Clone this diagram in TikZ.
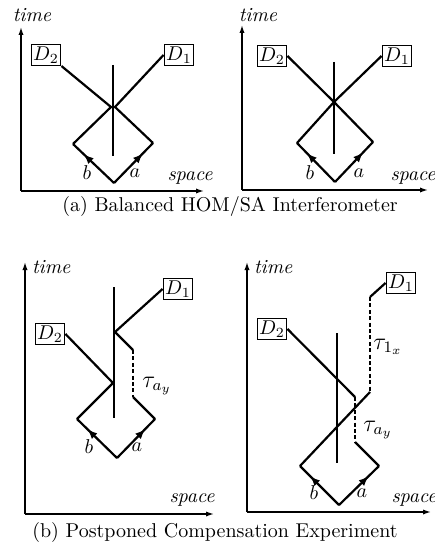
\documentclass[tikz,border=0pt]{standalone}
\usetikzlibrary{arrows.meta,decorations.markings}
\begin{document}
\begin{tikzpicture}[x=0.5pt,y=-0.5pt,
  axis/.style={line width=0.7pt,-{Latex[length=4pt,width=2.6pt]}},
  ray/.style={line width=1.1pt},
  delay/.style={line width=1.1pt,dash pattern=on 2pt off 1.2pt},
  bsplit/.style={line width=1.1pt},
  det/.style={draw,line width=0.7pt,inner sep=1pt,minimum height=9pt},
  lbl/.style={font=\itshape},
  upray/.style={line width=1.1pt,postaction={decorate},decoration={markings,mark=at position 0.74 with {\arrow{Latex[length=5pt,width=4pt]}}}},
  captext/.style={font=\normalsize}
]
\useasboundingbox (0,0) rectangle (434,545);

% ---------- Panel (a) left ----------
\coordinate (O1) at (21,191);
\coordinate (Y1) at (21,27);
\coordinate (X1) at (204,191);
\draw[axis] (O1) -- (Y1);
\draw[axis] (O1) -- (X1);
\node[lbl] (t1) at (32,15) {time};
\node[lbl] (sp1) at (190,178) {space};
\node[det] (D2a) at (46,55) {$D_2$};
\node[det] (D1a) at (179,55) {$D_1$};
\coordinate (bs1t) at (113,65);
\coordinate (bs1b) at (113,156);
\draw[bsplit] (bs1t) -- (bs1b);
\coordinate (r1L) at (111,107);
\coordinate (r1R) at (115,107);
\coordinate (L1) at (73,144);
\coordinate (R1) at (153,143);
\coordinate (B1) at (114,183);
\draw[ray] (D2a.south east) -- (r1L) -- (L1);
\draw[ray] (D1a.west) -- (r1R) -- (R1);
\draw[upray] (B1) -- (L1);
\draw[upray] (B1) -- (R1);
\node (b1) at (87,173) {$b$};
\node (a1) at (135,173) {$a$};

% ---------- Panel (a) right ----------
\coordinate (O2) at (242,190);
\coordinate (Y2) at (242,25);
\coordinate (X2) at (428,190);
\draw[axis] (O2) -- (Y2);
\draw[axis] (O2) -- (X2);
\node[lbl] (t2) at (258,15) {time};
\node[lbl] (sp2) at (413,178) {space};
\node[det] (D2b) at (272,56) {$D_2$};
\node[det] (D1b) at (397,56) {$D_1$};
\coordinate (bs2t) at (334,62);
\coordinate (bs2b) at (334,154);
\draw[bsplit] (bs2t) -- (bs2b);
\coordinate (c2) at (334,102);
\coordinate (L2) at (297,143);
\coordinate (R2) at (373,142);
\coordinate (B2) at (335,182);
\draw[ray] (D2b.east) -- (c2) -- (R2);
\draw[ray] (D1b.west) -- (c2) -- (L2);
\draw[upray] (B2) -- (L2);
\draw[upray] (B2) -- (R2);
\node (b2) at (310,173) {$b$};
\node (a2) at (359,173) {$a$};

\node[captext] (capa) at (230,207) {(a) Balanced HOM/SA Interferometer};

% ---------- Panel (b) left ----------
\coordinate (O3) at (25,514);
\coordinate (Y3) at (25,262);
\coordinate (X3) at (214,514);
\draw[axis] (O3) -- (Y3);
\draw[axis] (O3) -- (X3);
\node[lbl,anchor=west] (t3) at (25,267) {time};
\node[lbl] (sp3) at (192,500) {space};
\node[det] (D1c) at (178,289) {$D_1$};
\node[det] (D2c) at (50,334) {$D_2$};
\coordinate (bs3t) at (114,287);
\coordinate (bs3b) at (114,418);
\draw[bsplit] (bs3t) -- (bs3b);
\coordinate (r3a) at (115,332);
\coordinate (s3a) at (133,350);
\coordinate (s3b) at (133,397);
\coordinate (R3) at (155,419);
\coordinate (r3b) at (113,383);
\coordinate (L3) at (77,419);
\coordinate (B3) at (117,458);
\draw[ray] (D1c.west) -- (r3a) -- (s3a);
\draw[delay] (s3a) -- (s3b);
\draw[ray] (s3b) -- (R3);
\draw[ray] (D2c.east) -- (r3b) -- (L3);
\draw[upray] (B3) -- (L3);
\draw[upray] (B3) -- (R3);
\node (b3) at (89,447) {$b$};
\node (a3) at (137,447) {$a$};
\node[font=\large] (tau3) at (157,386) {$\tau_{a_y}$};

% ---------- Panel (b) right ----------
\coordinate (O4) at (247,512);
\coordinate (Y4) at (247,262);
\coordinate (X4) at (431,512);
\draw[axis] (O4) -- (Y4);
\draw[axis] (O4) -- (X4);
\node[lbl,anchor=west] (t4) at (247,267) {time};
\node[lbl] (sp4) at (414,500) {space};
\node[det] (D1d) at (401,283) {$D_1$};
\node[det] (D2d) at (272,329) {$D_2$};
\coordinate (bs4t) at (337,333);
\coordinate (bs4b) at (337,463);
\draw[bsplit] (bs4t) -- (bs4b);
\coordinate (t4a) at (370,297);
\coordinate (t4b) at (370,392);
\coordinate (L4) at (300,466);
\coordinate (B4) at (339,505);
\coordinate (R4) at (379,466);
\coordinate (u4b) at (355,442);
\coordinate (u4a) at (355,397);
\draw[ray] (D1d.west) -- (t4a);
\draw[delay] (t4a) -- (t4b);
\draw[ray] (t4b) -- (L4);
\draw[ray] (D2d.east) -- (u4a);
\draw[delay] (u4a) -- (u4b);
\draw[ray] (u4b) -- (R4);
\draw[upray] (B4) -- (L4);
\draw[upray] (B4) -- (R4);
\node (b4) at (314,493) {$b$};
\node (a4) at (362,493) {$a$};
\node[font=\large] (tau4a) at (388,347) {$\tau_{1_x}$};
\node[font=\large] (tau4b) at (378,430) {$\tau_{a_y}$};

\node[captext] (capb) at (215,532) {(b) Postponed Compensation Experiment};
\end{tikzpicture}
\end{document}
